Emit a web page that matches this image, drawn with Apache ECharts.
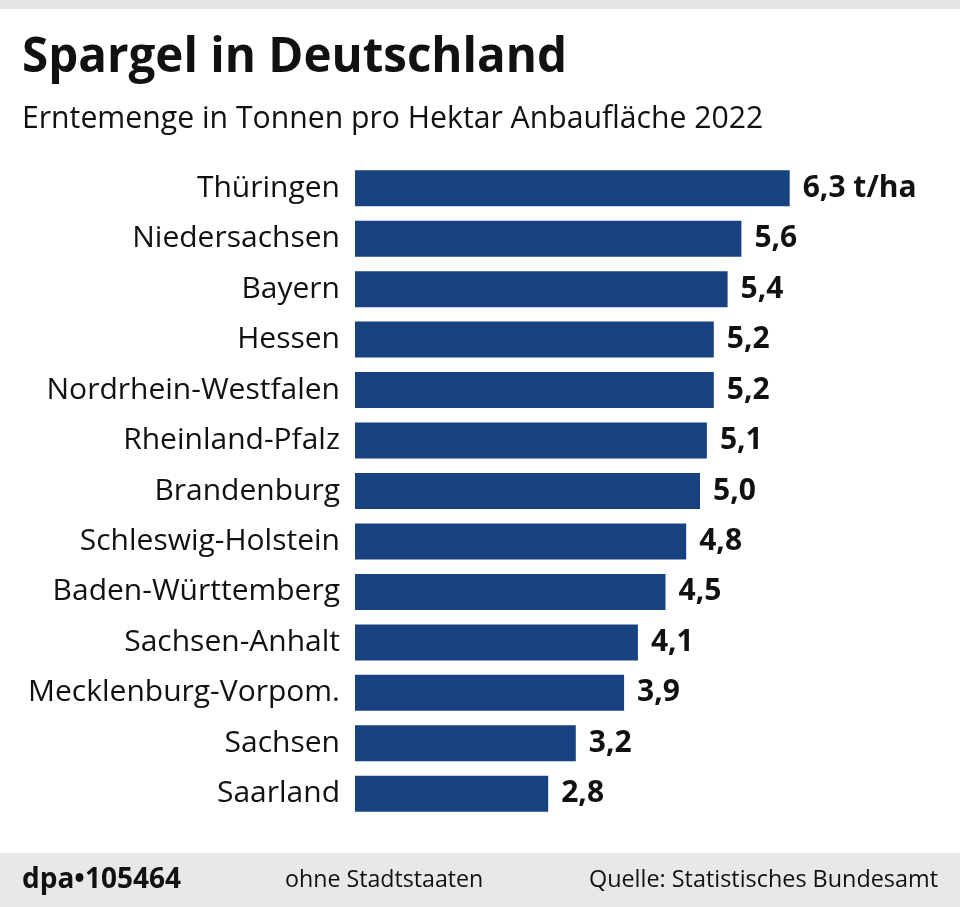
<!DOCTYPE html>
<html><head><meta charset="utf-8">
<script src="https://cdn.jsdelivr.net/npm/echarts@6/dist/echarts.min.js"></script>
<style>html,body{margin:0;padding:0;background:#fff}#c{width:960px;height:907px}</style>
</head><body><div id="c"></div>
<script>
const categories = ["Thüringen","Niedersachsen","Bayern","Hessen","Nordrhein-Westfalen","Rheinland-Pfalz","Brandenburg","Schleswig-Holstein","Baden-Württemberg","Sachsen-Anhalt","Mecklenburg-Vorpom.","Sachsen","Saarland"];
const values = [6.3,5.6,5.4,5.2,5.2,5.1,5.0,4.8,4.5,4.1,3.9,3.2,2.8];
const titleText = "Spargel in Deutschland";
const subtitleText = "Erntemenge in Tonnen pro Hektar Anbaufläche 2022";
const footerLeft = "dpa•105464";
const footerMid = "ohne Stadtstaaten";
const footerRight = "Quelle: Statistisches Bundesamt";
const unit = " t/ha";

const FONT = "Open Sans";
const chart = echarts.init(document.getElementById('c'), null, {renderer:'canvas'});
chart.setOption({
  animation:false,
  backgroundColor:'#fff',
  grid:{left:355, top:163, height:656, width:552, containLabel:false},
  xAxis:{type:'value', min:0, max:8, show:false},
  yAxis:{type:'category', data:categories, inverse:true,
    axisLine:{show:false}, axisTick:{show:false},
    axisLabel:{margin:15, fontFamily:FONT, fontSize:30, color:'#111'}},
  series:[{type:'bar', data:values, barWidth:36,
    itemStyle:{color:'#17427f'},
    label:{show:true, position:'right', distance:13, fontFamily:FONT, fontWeight:'bold', fontSize:30, color:'#111',
      formatter:p=>p.value.toFixed(1).replace('.',',')+(p.dataIndex===0?unit:'')}}],
  graphic:[
    {type:'rect', shape:{x:0,y:0,width:960,height:9}, style:{fill:'#e6e6e6'}},
    {type:'rect', shape:{x:0,y:853,width:960,height:54}, style:{fill:'#e8e8e8'}},
    {type:'text', x:22, y:58, style:{text:titleText, fontFamily:FONT, fontWeight:'bold', fontSize:47.5, fill:'#111', verticalAlign:'middle'}},
    {type:'text', x:22, y:119, style:{text:subtitleText, fontFamily:FONT, fontSize:30.2, fill:'#111', verticalAlign:'middle'}},
    {type:'text', x:22, y:880, style:{text:footerLeft, fontFamily:FONT, fontWeight:'bold', fontSize:28, fill:'#111', verticalAlign:'middle'}},
    {type:'text', x:285, y:880, style:{text:footerMid, fontFamily:FONT, fontSize:23.2, fill:'#111', verticalAlign:'middle'}},
    {type:'text', x:938, y:880, style:{text:footerRight, fontFamily:FONT, fontSize:23.4, fill:'#111', verticalAlign:'middle', align:'right'}}
  ]
});
</script></body></html>
